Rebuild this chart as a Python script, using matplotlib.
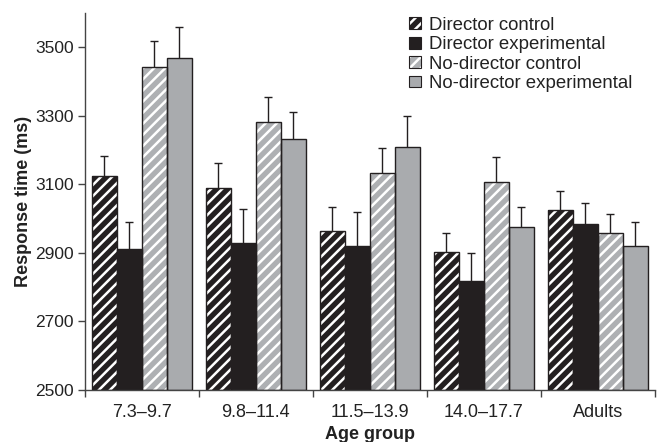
import matplotlib
matplotlib.use("Agg")
import matplotlib.pyplot as plt
import numpy as np
from matplotlib.patches import Patch
from matplotlib.legend_handler import HandlerTuple

plt.rcParams['font.family'] = ['Liberation Sans', 'DejaVu Sans']
plt.rcParams['hatch.linewidth'] = 1.8

groups = ["7.3\u20139.7", "9.8\u201311.4", "11.5\u201313.9", "14.0\u201317.7", "Adults"]
series = ["Director control", "Director experimental", "No-director control", "No-director experimental"]
dir_control = [3125, 3090, 2964, 2902, 3025]
dir_control_err = [57, 72, 69, 56, 56]
dir_exp = [2910, 2929, 2919, 2819, 2983]
dir_exp_err = [79, 99, 99, 80, 64]
nodir_control = [3443, 3283, 3133, 3106, 2957]
nodir_control_err = [76, 72, 74, 73, 56]
nodir_exp = [3469, 3232, 3209, 2975, 2919]
nodir_exp_err = [91, 80, 90, 58, 70]

values = [dir_control, dir_exp, nodir_control, nodir_exp]
errors = [dir_control_err, dir_exp_err, nodir_control_err, nodir_exp_err]
faces = ["#231f20", "#231f20", "#aeb0b3", "#a9abae"]
hatches = ["///", None, "///", None]
edge = "#231f20"

fig = plt.figure(figsize=(6.62, 4.42), dpi=100)
ax = fig.add_axes([0.128, 0.1176, 0.861, 0.853])

x = np.arange(len(groups))
w = 0.219
offsets = [-1.5 * w, -0.5 * w, 0.5 * w, 1.5 * w]
handles = []
for vals, errs, fc, h, off, name in zip(values, errors, faces, hatches, offsets, series):
    if h:
        ax.bar(x + off, np.array(vals) - 2500, w, bottom=2500, color=fc, hatch=h,
               edgecolor="white", linewidth=0, zorder=2)
    else:
        ax.bar(x + off, np.array(vals) - 2500, w, bottom=2500, color=fc, linewidth=0, zorder=2)
    ax.bar(x + off, np.array(vals) - 2500, w, bottom=2500, fill=False,
           edgecolor=edge, linewidth=1.0, zorder=3)
    eb = ax.errorbar(x + off, vals, yerr=[np.zeros(len(vals)), errs], fmt="none",
                     ecolor=edge, elinewidth=1.0, capsize=3, capthick=1.0, zorder=1)
    eb[1][0].set_visible(False)
    if h:
        hp = Patch(facecolor=fc, hatch=h, edgecolor="white", linewidth=0)
    else:
        hp = Patch(facecolor=fc, linewidth=0)
    ho = Patch(fill=False, edgecolor=edge, linewidth=0.8)
    handles.append((hp, ho))

ax.set_ylim(2500, 3600)
ax.set_xlim(-0.5, 4.5)
ax.set_yticks([2500, 2700, 2900, 3100, 3300, 3500])
ax.set_xticks(np.arange(-0.5, 5, 1.0))
ax.set_xticklabels([])
ax.set_xticks(x, minor=True)
ax.set_xticklabels(groups, minor=True)
ax.tick_params(axis="x", which="minor", length=0, pad=10, labelsize=13, labelcolor="#222222")
ax.tick_params(axis="x", which="major", length=5, width=1, color="#444444")
ax.tick_params(axis="y", length=5, width=1, color="#444444", labelsize=12.5, pad=3,
               labelcolor="#222222")

for s in ["top", "right"]:
    ax.spines[s].set_visible(False)
for s in ["left", "bottom"]:
    ax.spines[s].set_color("#444444")
    ax.spines[s].set_linewidth(1.0)

ax.set_xlabel("Age group", fontsize=13, fontweight="bold", labelpad=4, color="#222222")
ax.set_ylabel("Response time (ms)", fontsize=13, fontweight="bold", labelpad=2, color="#222222")

ax.legend(handles, series, handler_map={tuple: HandlerTuple(ndivide=1)},
          loc="upper left", bbox_to_anchor=(0.618, 0.962), bbox_transform=fig.transFigure,
          frameon=False, fontsize=13.4, handlelength=0.65, handleheight=0.6,
          handletextpad=0.4, labelspacing=0.13, borderaxespad=0, borderpad=0,
          labelcolor="#222222")

fig.savefig("out.png", dpi=100)
